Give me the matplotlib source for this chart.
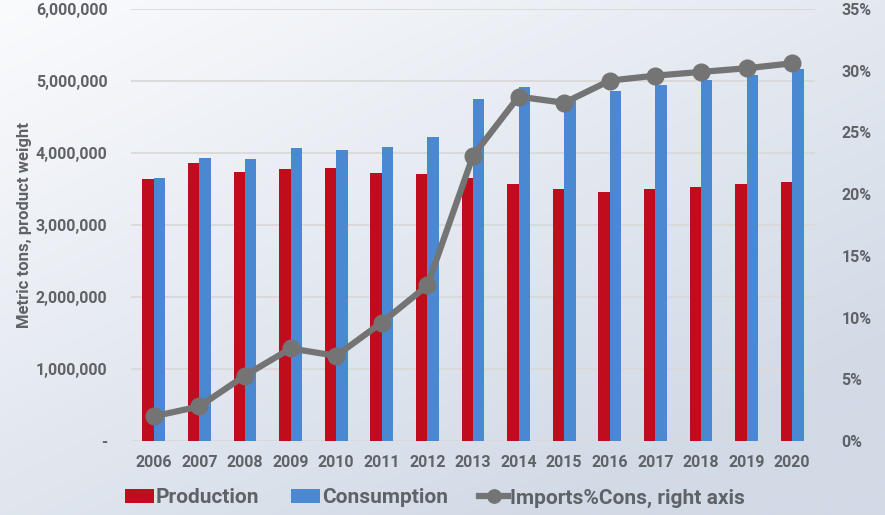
import numpy as np
import matplotlib
matplotlib.use("Agg")
import matplotlib.pyplot as plt
from matplotlib.ticker import FuncFormatter, MultipleLocator

years = ["2006", "2007", "2008", "2009", "2010", "2011", "2012", "2013",
         "2014", "2015", "2016", "2017", "2018", "2019", "2020"]
production = [3640000, 3860000, 3740000, 3780000, 3790000, 3720000, 3710000, 3650000,
              3570000, 3500000, 3460000, 3500000, 3530000, 3570000, 3600000]
consumption = [3650000, 3930000, 3910000, 4070000, 4040000, 4080000, 4220000, 4750000,
               4920000, 4760000, 4860000, 4940000, 5010000, 5090000, 5170000]
imports_pct = [2.0, 2.8, 5.3, 7.5, 6.9, 9.6, 12.6, 23.1,
               27.9, 27.4, 29.2, 29.6, 29.9, 30.2, 30.6]

RED = "#c00d1e"
BLUE = "#4a89d2"
GREY_LINE = "#747474"
TXT = "#5f6266"

plt.rcParams['font.family'] = ['Roboto', 'DejaVu Sans']
plt.rcParams['font.weight'] = 'bold'

fig = plt.figure(figsize=(8.85, 5.15), dpi=100)

# gradient background
bg = fig.add_axes([0, 0, 1, 1], zorder=-10)
ny, nx = 200, 300
yy, xx = np.mgrid[0:1:ny*1j, 0:1:nx*1j]
t = np.clip(0.55 * xx + 0.65 * yy, 0, 1)
c0 = np.array([0xfa, 0xfb, 0xfd]) / 255
c1 = np.array([0xd2, 0xda, 0xe6]) / 255
img = c0[None, None, :] * (1 - t[..., None]) + c1[None, None, :] * t[..., None]
bg.imshow(img, aspect='auto', extent=[0, 1, 0, 1], origin='upper')
bg.axis('off')

ax = fig.add_axes([131/885, 1 - 441/515, (815-131)/885, (441-9)/515])
ax.set_facecolor('none')
x = np.arange(len(years))
w = 0.25
ax.bar(x - w/2, production, width=w, color=RED, label="Production", zorder=2)
ax.bar(x + w/2, consumption, width=w, color=BLUE, label="Consumption", zorder=2)
ax.set_xlim(-0.5, len(years) - 0.5)
ax.set_ylim(0, 6000000)
ax.yaxis.set_major_locator(MultipleLocator(1000000))
ax.yaxis.set_major_formatter(FuncFormatter(lambda v, p: "-" if v == 0 else f"{int(v):,}"))
ax.grid(axis='y', color='#d9d9d9', linewidth=1.3, zorder=0)
ax.set_axisbelow(True)
for s in ax.spines.values():
    s.set_visible(False)
ax.axhline(0, color='#d9d9d9', linewidth=1.3, zorder=1)
ax.set_xticks(x)
ax.set_xticklabels(years)
ax.tick_params(axis='both', length=0, labelsize=11.5, labelcolor=TXT)
ax.tick_params(axis='x', pad=10)
ax.tick_params(axis='y', pad=17)
fig.text(25/885, 1 - 225/515, "Metric tons, product weight", rotation=90,
         ha='center', va='center', fontsize=12, color=TXT, fontweight='bold')

ax2 = ax.twinx()
ax2.set_ylim(0, 35)
ax2.yaxis.set_major_locator(MultipleLocator(5))
ax2.yaxis.set_major_formatter(FuncFormatter(lambda v, p: f"{int(v)}%"))
ax2.tick_params(axis='y', length=0, labelsize=11.5, labelcolor=TXT, pad=19)
for s in ax2.spines.values():
    s.set_visible(False)
ax2.plot(x, imports_pct, color=GREY_LINE, linewidth=4.5, marker='o', markersize=12,
         label="Imports%Cons, right axis", zorder=3)

h1, l1 = ax.get_legend_handles_labels()
h2, l2 = ax2.get_legend_handles_labels()
leg = fig.legend(h1 + h2, l1 + l2, loc='center', bbox_to_anchor=(435/885, 1 - 498/515),
                 ncol=3, frameon=False, fontsize=15, handlelength=1.4, handleheight=0.65,
                 handletextpad=0.1, columnspacing=1.5, markerscale=0.8)
for t_ in leg.get_texts():
    t_.set_color(TXT)
    t_.set_fontweight('bold')

fig.savefig("out.png", dpi=100)
